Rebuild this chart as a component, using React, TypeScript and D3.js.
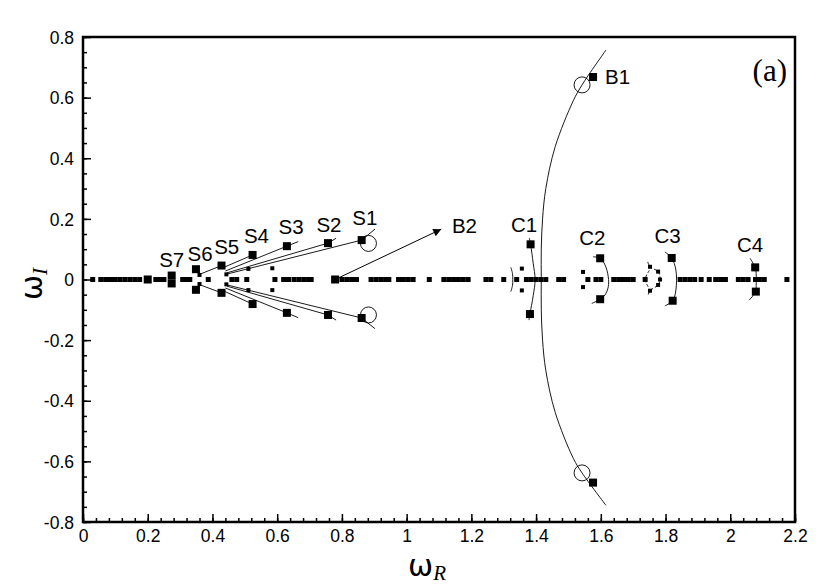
import React, { useEffect, useRef } from "react";
import * as d3 from "d3";

const width = 830;
const height = 588;

// eigenvalues on the real axis (omega_R)
const realAxis = [
  0.03, 0.055, 0.07, 0.085, 0.1, 0.115, 0.13, 0.145, 0.16, 0.175,
  0.225, 0.237, 0.25, 0.308, 0.32, 0.33, 0.387, 0.46, 0.475, 0.506,
  0.593, 0.62, 0.635, 0.652, 0.667, 0.682, 0.697, 0.705,
  0.8, 0.815, 0.83, 0.845, 0.89, 0.905, 0.92, 0.935, 0.945,
  0.975, 0.99, 1.005, 1.02, 1.07, 1.115, 1.13, 1.145, 1.16, 1.175, 1.19,
  1.245, 1.26, 1.3, 1.34, 1.37, 1.385, 1.4, 1.415, 1.43, 1.47, 1.485,
  1.56, 1.585, 1.6, 1.64, 1.655, 1.67, 1.685, 1.7, 1.737,
  1.845, 1.86, 1.875, 1.89, 1.91, 1.935, 1.955, 1.97, 1.985,
  2.025, 2.04, 2.055, 2.078, 2.09, 2.105, 2.175,
];

// complex eigenvalues, large markers [omega_R, omega_I]
const bigSquares = [
  [0.2, 0], [0.779, 0],
  [0.861, 0.13], [0.757, 0.12], [0.63, 0.11], [0.524, 0.081], [0.428, 0.046], [0.349, 0.034], [0.274, 0.013],
  [0.861, -0.127], [0.757, -0.117], [0.63, -0.11], [0.524, -0.081], [0.428, -0.044], [0.349, -0.034], [0.274, -0.013],
  [1.576, 0.668], [1.576, -0.67],
  [1.383, 0.116], [1.381, -0.114],
  [1.598, 0.07], [1.598, -0.065],
  [1.819, 0.071], [1.822, -0.07],
  [2.077, 0.04], [2.079, -0.04],
];

// complex eigenvalues, small markers
const smallSquares = [
  [0.36, 0.015], [0.36, -0.015], [0.443, 0.017], [0.443, -0.016],
  [0.511, 0.035], [0.511, -0.035], [0.585, 0.037], [0.585, -0.035],
  [1.356, 0.036], [1.356, -0.036], [1.545, 0.025], [1.545, -0.025],
  [1.752, 0.042], [1.777, 0.026], [1.783, 0], [1.777, -0.018], [1.752, -0.037],
];

const openCircles = [
  [0.882, 0.119], [0.882, -0.117], [1.542, 0.642], [1.542, -0.638],
];

// solid trajectories
const branchB1 = [
  [1.616, -0.745], [1.542, -0.638], [1.515, -0.59], [1.459, -0.438], [1.43, -0.3],
  [1.42, -0.2], [1.416, -0.1], [1.416, 0], [1.416, 0.1], [1.42, 0.2], [1.43, 0.3],
  [1.459, 0.438], [1.515, 0.59], [1.542, 0.642], [1.616, 0.757],
];
const branchC1 = [[1.379, 0.137], [1.383, 0.116], [1.391, 0.054], [1.397, 0], [1.391, -0.054], [1.381, -0.114], [1.378, -0.134]];
const branchC1b = [[1.322, 0.04], [1.327, 0.02], [1.328, 0], [1.327, -0.02], [1.322, -0.04]];
const branchC2 = [[1.576, 0.075], [1.598, 0.07], [1.613, 0.048], [1.623, 0.009], [1.623, -0.024], [1.613, -0.051], [1.598, -0.065], [1.572, -0.079]];
const branchC3 = [[1.798, 0.091], [1.819, 0.071], [1.832, 0.031], [1.832, -0.035], [1.822, -0.07], [1.798, -0.087]];
const branchC4 = [[2.061, 0.07], [2.077, 0.04], [2.08, 0.02], [2.08, -0.02], [2.079, -0.04], [2.058, -0.068]];
const branchesS = [
  [[0.445, 0.018], [0.861, 0.13], [0.902, 0.166]],
  [[0.445, 0.022], [0.757, 0.12], [0.782, 0.136]],
  [[0.44, 0.028], [0.63, 0.11], [0.665, 0.125]],
  [[0.435, 0.04], [0.524, 0.081]],
  [[0.36, 0.017], [0.428, 0.046]],
  [[0.445, -0.018], [0.861, -0.127], [0.902, -0.162]],
  [[0.445, -0.022], [0.757, -0.117], [0.782, -0.134]],
  [[0.44, -0.028], [0.63, -0.11], [0.665, -0.126]],
  [[0.435, -0.038], [0.524, -0.081]],
  [[0.36, -0.017], [0.428, -0.044]],
];
// dashed trajectories
const dashedC3 = [[1.745, 0.058], [1.752, 0.042], [1.777, 0.026], [1.783, 0], [1.777, -0.018], [1.752, -0.037], [1.745, -0.055]];
const dashedC3b = [[1.75, 0.03], [1.737, 0], [1.75, -0.03]];

const arrowB2 = [[0.779, 0], [1.107, 0.166]];

const labels = [
  { text: "S1", x: 0.871, y: 0.18 },
  { text: "S2", x: 0.76, y: 0.158 },
  { text: "S3", x: 0.643, y: 0.149 },
  { text: "S4", x: 0.536, y: 0.119 },
  { text: "S5", x: 0.444, y: 0.084 },
  { text: "S6", x: 0.362, y: 0.061 },
  { text: "S7", x: 0.274, y: 0.04 },
  { text: "C1", x: 1.363, y: 0.158 },
  { text: "C2", x: 1.574, y: 0.114 },
  { text: "C3", x: 1.806, y: 0.119 },
  { text: "C4", x: 2.061, y: 0.092 },
];
const labelB1 = { text: "B1", x: 1.613, y: 0.645 };
const labelB2 = { text: "B2", x: 1.14, y: 0.152 };

const xTicks = [0, 0.2, 0.4, 0.6, 0.8, 1, 1.2, 1.4, 1.6, 1.8, 2, 2.2];
const yTicks = [-0.8, -0.6, -0.4, -0.2, 0, 0.2, 0.4, 0.6, 0.8];

const App = () => {
  const svgRef = useRef(null);

  useEffect(() => {
    const margin = { top: 37, right: 35, bottom: 66, left: 83 };
    const innerW = width - margin.left - margin.right;
    const innerH = height - margin.top - margin.bottom;
    const font = "'Liberation Sans', Arial, sans-serif";

    const svg = d3.select(svgRef.current);
    svg.selectAll("*").remove();

    const g = svg.append("g").attr("transform", `translate(${margin.left},${margin.top})`);

    const x = d3.scaleLinear().domain([0, 2.2]).range([0, innerW]);
    const y = d3.scaleLinear().domain([-0.8, 0.8]).range([innerH, 0]);

    const line = d3.line().x((d) => x(d[0])).y((d) => y(d[1]));
    const smooth = d3.line().x((d) => x(d[0])).y((d) => y(d[1])).curve(d3.curveCatmullRom);

    // axes: ticks inward, bottom and left
    const xAxis = d3.axisBottom(x).tickValues(xTicks).tickSize(-8).tickFormat(d3.format("~g"));
    const xMinor = d3.axisBottom(x).tickValues(d3.range(0, 2.2001, 0.04)).tickSize(-4).tickFormat(() => "");
    const yAxis = d3.axisLeft(y).tickValues(yTicks).tickSize(-8).tickFormat((d) => d3.format("~g")(d).replace("−", "-"));
    const yMinor = d3.axisLeft(y).tickValues(d3.range(-0.8, 0.8001, 0.05)).tickSize(-4).tickFormat(() => "");

    const gx = g.append("g").attr("transform", `translate(0,${innerH})`).call(xAxis);
    g.append("g").attr("transform", `translate(0,${innerH})`).call(xMinor);
    const gy = g.append("g").call(yAxis);
    g.append("g").call(yMinor);

    g.selectAll(".domain").remove();
    g.selectAll(".tick line").attr("stroke", "#000").attr("stroke-width", 1.5);
    gx.selectAll(".tick text").attr("dy", null).attr("y", 20).style("font-size", "17.5px").style("font-family", font);
    gy.selectAll(".tick text").attr("x", -9).attr("dy", "0.35em").style("font-size", "17.5px").style("font-family", font);

    g.append("rect")
      .attr("width", innerW)
      .attr("height", innerH)
      .attr("fill", "none")
      .attr("stroke", "#000")
      .attr("stroke-width", 2.5);

    // trajectories
    const solid = [branchC1, branchC1b, branchC2, branchC3, branchC4];
    g.append("path").attr("d", smooth(branchB1)).attr("fill", "none").attr("stroke", "#000").attr("stroke-width", 0.9);
    solid.forEach((b) => {
      g.append("path").attr("d", smooth(b)).attr("fill", "none").attr("stroke", "#000").attr("stroke-width", 0.9);
    });
    branchesS.forEach((b) => {
      g.append("path").attr("d", line(b)).attr("fill", "none").attr("stroke", "#000").attr("stroke-width", 0.9);
    });
    [dashedC3, dashedC3b].forEach((b) => {
      g.append("path")
        .attr("d", smooth(b))
        .attr("fill", "none")
        .attr("stroke", "#000")
        .attr("stroke-width", 0.9)
        .attr("stroke-dasharray", "3,2");
    });

    // B2 arrow
    svg.append("defs")
      .append("marker")
      .attr("id", "arrow")
      .attr("viewBox", "0 0 10 10")
      .attr("refX", 10)
      .attr("refY", 5)
      .attr("markerWidth", 16)
      .attr("markerHeight", 8)
      .attr("markerUnits", "userSpaceOnUse")
      .attr("orient", "auto")
      .append("path")
      .attr("d", "M0,0 L10,5 L0,10 Z")
      .attr("fill", "#000");
    g.append("path")
      .attr("d", line(arrowB2))
      .attr("stroke", "#000")
      .attr("stroke-width", 1)
      .attr("marker-end", "url(#arrow)");

    // markers
    g.selectAll(".axis-pt")
      .data(realAxis)
      .enter()
      .append("rect")
      .attr("x", (d) => x(d) - 2.5)
      .attr("y", y(0) - 2.5)
      .attr("width", 5)
      .attr("height", 5)
      .attr("fill", "#000");

    g.selectAll(".small-pt")
      .data(smallSquares)
      .enter()
      .append("rect")
      .attr("x", (d) => x(d[0]) - 2)
      .attr("y", (d) => y(d[1]) - 2)
      .attr("width", 4)
      .attr("height", 4)
      .attr("fill", "#000");

    g.selectAll(".big-pt")
      .data(bigSquares)
      .enter()
      .append("rect")
      .attr("x", (d) => x(d[0]) - 4)
      .attr("y", (d) => y(d[1]) - 4)
      .attr("width", 8)
      .attr("height", 8)
      .attr("fill", "#000");

    g.selectAll(".circ")
      .data(openCircles)
      .enter()
      .append("circle")
      .attr("cx", (d) => x(d[0]))
      .attr("cy", (d) => y(d[1]))
      .attr("r", 8)
      .attr("fill", "none")
      .attr("stroke", "#000")
      .attr("stroke-width", 0.9);

    // labels
    g.selectAll(".lbl")
      .data(labels)
      .enter()
      .append("text")
      .attr("x", (d) => x(d.x))
      .attr("y", (d) => y(d.y))
      .attr("text-anchor", "middle")
      .style("font-family", font)
      .style("font-size", "20.5px")
      .text((d) => d.text);
    [labelB1, labelB2].forEach((d) => {
      g.append("text")
        .attr("x", x(d.x))
        .attr("y", y(d.y))
        .style("font-family", font)
        .style("font-size", "20.5px")
        .text(d.text);
    });

    g.append("text")
      .attr("x", innerW - 8)
      .attr("y", 44)
      .attr("text-anchor", "end")
      .style("font-family", "'Liberation Serif', 'Times New Roman', serif")
      .style("font-size", "31px")
      .text("(a)");

    // axis titles
    const xt = svg.append("text")
      .attr("x", 408)
      .attr("y", 576)
      .style("font-family", "'DejaVu Sans', sans-serif")
      .style("font-size", "30px");
    xt.append("tspan").text("ω");
    xt.append("tspan").attr("dy", 4).style("font-family", "'Liberation Serif', serif").style("font-size", "21px").style("font-style", "italic").text("R");

    const yt = svg.append("text")
      .attr("transform", "translate(42,300) rotate(-90)")
      .style("font-family", "'DejaVu Sans', sans-serif")
      .style("font-size", "30px");
    yt.append("tspan").text("ω");
    yt.append("tspan").attr("dy", 5).style("font-family", "'Liberation Serif', serif").style("font-size", "21px").style("font-style", "italic").text("I");
  }, []);

  return (
    <div style={{ position: "absolute", left: 0, top: 0, background: "#fff" }}>
      <svg ref={svgRef} width={width} height={height} />
    </div>
  );
};

export default App;
